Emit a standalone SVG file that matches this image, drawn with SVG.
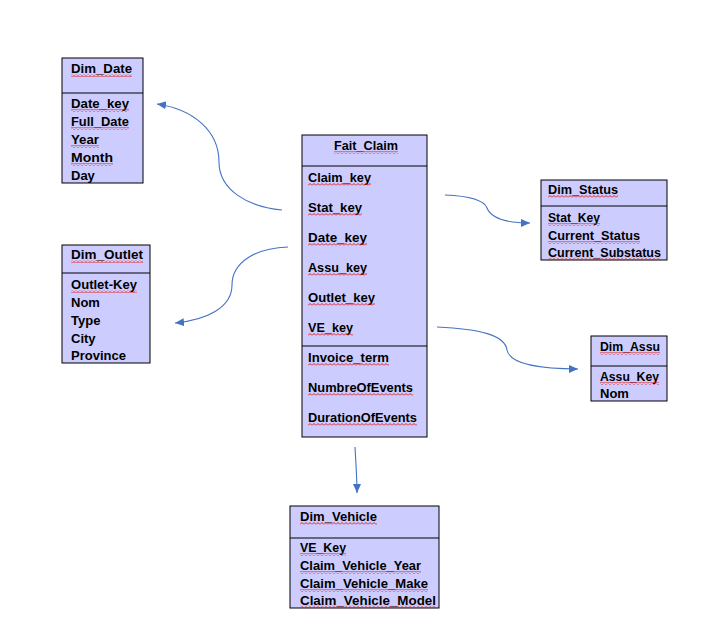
<svg xmlns="http://www.w3.org/2000/svg" width="715" height="626" viewBox="0 0 715 626">
<style>
.box{fill:#CCCCFF;stroke:#000;stroke-width:1}
.div{stroke:#000;stroke-width:1}
.t{font-family:"Liberation Sans",Arial,sans-serif;font-weight:bold;font-size:13px;fill:#000}
.c{text-anchor:middle}
.sq{fill:url(#wave)}
.con{fill:none;stroke:#4472C4;stroke-width:1.1}
</style>
<defs>
<pattern id="wave" patternUnits="userSpaceOnUse" width="4" height="3">
<path d="M0,2.5 L2,0.5 L4,2.5" fill="none" stroke="#E02020" stroke-width="1"/>
</pattern>
<marker id="arr" markerUnits="userSpaceOnUse" markerWidth="10" markerHeight="10" refX="9" refY="4" orient="auto">
<path d="M0,0 L9,4 L0,8 Z" fill="#4472C4"/>
</marker>
</defs>
<rect width="715" height="626" fill="#fff"/>

<g id="connectors">
<path class="con" marker-end="url(#arr)" d="M282,210 C248,207 219,190 219,162 C219,130 192,109 157,104"/>
<path class="con" marker-end="url(#arr)" d="M288,247 C256,248 232,262 232,285 C232,308 206,320 175,323"/>
<path class="con" marker-end="url(#arr)" d="M445,195 C470,196 484,200 487,208 C491,218 505,223 530,223"/>
<path class="con" marker-end="url(#arr)" d="M437,327 C480,329 505,335 507,350 C510,365 545,369 578,369"/>
<path class="con" marker-end="url(#arr)" d="M355,447 C356,465 357,478 357,493"/>
</g>

<g id="Dim_Date">
<rect class="box" x="62" y="58" width="81" height="125"/>
<line class="div" x1="62" y1="93" x2="143" y2="93"/>
<text class="t" x="71" y="73" textLength="61" lengthAdjust="spacingAndGlyphs">Dim_Date</text>
<text class="t" x="71" y="108" textLength="58" lengthAdjust="spacingAndGlyphs">Date_key</text>
<text class="t" x="71" y="126" textLength="58" lengthAdjust="spacingAndGlyphs">Full_Date</text>
<text class="t" x="71" y="144" textLength="28" lengthAdjust="spacingAndGlyphs">Year</text>
<text class="t" x="71" y="162" textLength="42" lengthAdjust="spacingAndGlyphs">Month</text>
<text class="t" x="71" y="180">Day</text>
<rect class="sq" x="71" y="74" width="61" height="3"/>
<rect class="sq" x="71" y="109" width="58" height="3"/>
<rect class="sq" x="71" y="127" width="58" height="3"/>
<rect class="sq" x="71" y="145" width="28" height="3"/>
<rect class="sq" x="71" y="163" width="42" height="3"/>
</g>

<g id="Fait_Claim">
<rect class="box" x="302" y="135" width="125" height="302"/>
<line class="div" x1="302" y1="166" x2="427" y2="166"/>
<line class="div" x1="302" y1="346" x2="427" y2="346"/>
<text class="t" x="334" y="150" textLength="64" lengthAdjust="spacingAndGlyphs">Fait_Claim</text>
<text class="t" x="308" y="182" textLength="63" lengthAdjust="spacingAndGlyphs">Claim_key</text>
<text class="t" x="308" y="212" textLength="54" lengthAdjust="spacingAndGlyphs">Stat_key</text>
<text class="t" x="308" y="242" textLength="59" lengthAdjust="spacingAndGlyphs">Date_key</text>
<text class="t" x="308" y="272" textLength="59" lengthAdjust="spacingAndGlyphs">Assu_key</text>
<text class="t" x="308" y="302" textLength="67" lengthAdjust="spacingAndGlyphs">Outlet_key</text>
<text class="t" x="308" y="332" textLength="45" lengthAdjust="spacingAndGlyphs">VE_key</text>
<text class="t" x="308" y="362" textLength="81" lengthAdjust="spacingAndGlyphs">Invoice_term</text>
<text class="t" x="308" y="392" textLength="105" lengthAdjust="spacingAndGlyphs">NumbreOfEvents</text>
<text class="t" x="308" y="422" textLength="109" lengthAdjust="spacingAndGlyphs">DurationOfEvents</text>
<rect class="sq" x="334" y="151" width="64" height="3"/>
<rect class="sq" x="308" y="183" width="63" height="3"/>
<rect class="sq" x="308" y="213" width="54" height="3"/>
<rect class="sq" x="308" y="243" width="59" height="3"/>
<rect class="sq" x="308" y="273" width="59" height="3"/>
<rect class="sq" x="308" y="303" width="67" height="3"/>
<rect class="sq" x="308" y="333" width="45" height="3"/>
<rect class="sq" x="308" y="363" width="81" height="3"/>
<rect class="sq" x="308" y="393" width="105" height="3"/>
<rect class="sq" x="308" y="423" width="109" height="3"/>
</g>

<g id="Dim_Status">
<rect class="box" x="541" y="180" width="126" height="80"/>
<line class="div" x1="541" y1="206" x2="667" y2="206"/>
<text class="t" x="548" y="194" textLength="70" lengthAdjust="spacingAndGlyphs">Dim_Status</text>
<text class="t" x="548" y="222" textLength="52" lengthAdjust="spacingAndGlyphs">Stat_Key</text>
<text class="t" x="548" y="240" textLength="92" lengthAdjust="spacingAndGlyphs">Current_Status</text>
<text class="t" x="548" y="257" textLength="113" lengthAdjust="spacingAndGlyphs">Current_Substatus</text>
<rect class="sq" x="548" y="195" width="70" height="3"/>
<rect class="sq" x="548" y="223" width="52" height="3"/>
<rect class="sq" x="548" y="241" width="92" height="3"/>
<rect class="sq" x="548" y="257.5" width="113" height="3"/>
</g>

<g id="Dim_Outlet">
<rect class="box" x="62" y="245" width="88" height="118"/>
<line class="div" x1="62" y1="273" x2="150" y2="273"/>
<text class="t" x="71" y="259" textLength="72" lengthAdjust="spacingAndGlyphs">Dim_Outlet</text>
<text class="t" x="71" y="289" textLength="66" lengthAdjust="spacingAndGlyphs">Outlet-Key</text>
<text class="t" x="71" y="307">Nom</text>
<text class="t" x="71" y="325">Type</text>
<text class="t" x="71" y="343">City</text>
<text class="t" x="71" y="360">Province</text>
<rect class="sq" x="71" y="260" width="72" height="3"/>
<rect class="sq" x="71" y="290" width="66" height="3"/>
</g>

<g id="Dim_Assu">
<rect class="box" x="591" y="336" width="76" height="65"/>
<line class="div" x1="591" y1="366" x2="667" y2="366"/>
<text class="t" x="600" y="351" textLength="60" lengthAdjust="spacingAndGlyphs">Dim_Assu</text>
<text class="t" x="600" y="381" textLength="59" lengthAdjust="spacingAndGlyphs">Assu_Key</text>
<text class="t" x="600" y="398">Nom</text>
<rect class="sq" x="600" y="352" width="60" height="3"/>
<rect class="sq" x="600" y="382" width="59" height="3"/>
</g>

<g id="Dim_Vehicle">
<rect class="box" x="290" y="506" width="149" height="102"/>
<line class="div" x1="290" y1="538" x2="439" y2="538"/>
<text class="t" x="300" y="521" textLength="77" lengthAdjust="spacingAndGlyphs">Dim_Vehicle</text>
<text class="t" x="300" y="552" textLength="46" lengthAdjust="spacingAndGlyphs">VE_Key</text>
<text class="t" x="300" y="570" textLength="121" lengthAdjust="spacingAndGlyphs">Claim_Vehicle_Year</text>
<text class="t" x="300" y="588" textLength="128" lengthAdjust="spacingAndGlyphs">Claim_Vehicle_Make</text>
<text class="t" x="300" y="605" textLength="136" lengthAdjust="spacingAndGlyphs">Claim_Vehicle_Model</text>
<rect class="sq" x="300" y="522" width="77" height="3"/>
<rect class="sq" x="300" y="553" width="46" height="3"/>
<rect class="sq" x="300" y="571" width="121" height="3"/>
<rect class="sq" x="300" y="589" width="128" height="3"/>
<rect class="sq" x="300" y="605.5" width="136" height="3"/>
</g>
</svg>
